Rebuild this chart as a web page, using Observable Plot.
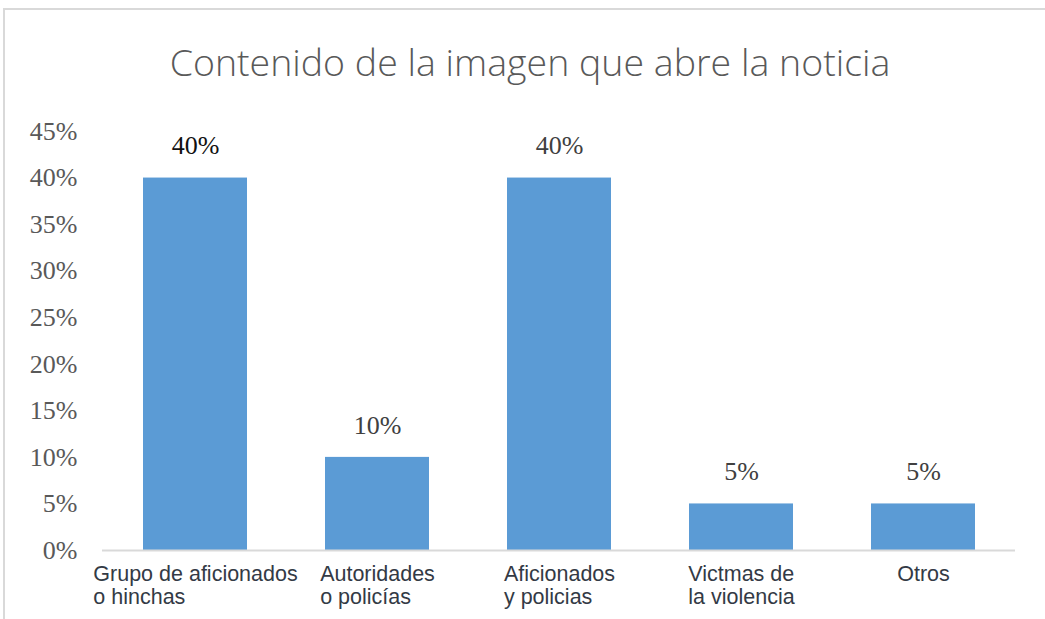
<!DOCTYPE html>
<html>
<head>
<meta charset="utf-8">
<script src="https://cdn.jsdelivr.net/npm/d3@7"></script>
<script src="https://cdn.jsdelivr.net/npm/@observablehq/plot@0.6"></script>
<style>
  html, body { margin: 0; padding: 0; background: #fff; width: 1045px; height: 619px; overflow: hidden; }
  #frame { position: absolute; left: 3px; top: 8px; width: 1100px; height: 700px;
           border-left: 2px solid #d9d9d9; border-top: 2px solid #d9d9d9; }
  #title { position: absolute; left: 0; width: 1060px; top: 43px; text-align: center;
           font-family: "Open Sans", sans-serif; font-weight: 300; font-size: 37.5px; color: #595959;
           white-space: nowrap; line-height: 1; }
  #chart { position: absolute; left: 0; top: 110px; }
</style>
</head>
<body>
<div id="frame"></div>
<div id="title">Contenido de la imagen que abre la noticia</div>
<div id="chart"></div>
<script>
const categories = [
  "Grupo de aficionados\no hinchas",
  "Autoridades\no policías",
  "Aficionados\ny policias",
  "Victmas de\nla violencia",
  "Otros"
];
const values = [0.40, 0.10, 0.40, 0.05, 0.05];
const yTicks = [0, 0.05, 0.10, 0.15, 0.20, 0.25, 0.30, 0.35, 0.40, 0.45];

const data = categories.map((c, i) => ({category: c, value: values[i]}));
const pct = v => `${Math.round(v * 100)}%`;

const plot = Plot.plot({
  width: 1045,
  height: 509,
  marginLeft: 102,
  marginRight: 30,
  marginTop: 21,
  marginBottom: 69,
  style: {background: "transparent", overflow: "visible"},
  x: {domain: categories, paddingInner: 0.43, paddingOuter: 0.21, label: null},
  y: {domain: [0, 0.45], label: null},
  marks: [
    Plot.barY(data, {x: "category", y: "value", fill: "#5b9bd5"}),
    Plot.ruleY([0], {stroke: "#d9d9d9", strokeWidth: 2}),
    Plot.axisY({ticks: yTicks, tickFormat: pct, tickSize: 0, tickPadding: 25,
      fontFamily: "'Liberation Serif', 'Times New Roman', serif", fontSize: 26, fill: "#595959"}),
    Plot.axisX({tickSize: 0, tickPadding: 14.5, lineHeight: 1.07,
      fontFamily: "'Liberation Sans', Arial, sans-serif", fontSize: 21.5, fill: "#333a45"}),
    Plot.text(data, {x: "category", y: "value", text: d => pct(d.value), dy: -32, lineAnchor: "middle",
      fontFamily: "'Liberation Serif', 'Times New Roman', serif", fontSize: 26,
      fill: (d, i) => i === 0 ? "#111111" : "#404040"})
  ]
});
document.getElementById("chart").appendChild(plot);

// Left-align the wrapped lines of each category label inside a centered block
d3.select(plot).selectAll('g[aria-label="x-axis tick label"] text').each(function() {
  const w = this.getBBox().width;
  const t = this.getAttribute("transform") || "";
  this.setAttribute("text-anchor", "start");
  this.setAttribute("transform", `${t} translate(${-w / 2},0)`);
});
</script>
</body>
</html>
